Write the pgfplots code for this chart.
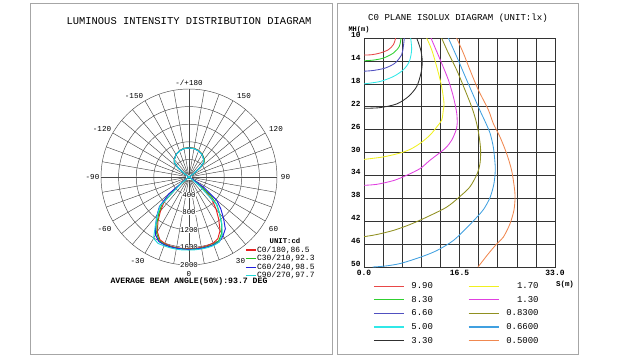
\documentclass[border=0pt]{standalone}
\usepackage{pgfplots}
\pgfplotsset{compat=1.18}
\usepackage{fontspec}
\setmainfont{Liberation Mono}
\newcommand\fs[1]{\fontsize{#1}{#1}\selectfont}
\definecolor{pr}{HTML}{E82020}
\definecolor{pg}{HTML}{20C020}
\definecolor{pb}{HTML}{2020E0}
\definecolor{pc}{HTML}{20D8D8}
\definecolor{ired}{HTML}{E84848}
\definecolor{igreen}{HTML}{30D030}
\definecolor{ipurple}{HTML}{5050C0}
\definecolor{icyan}{HTML}{30E8E8}
\definecolor{iblack}{HTML}{303030}
\definecolor{iyellow}{HTML}{F0F020}
\definecolor{imag}{HTML}{E040E0}
\definecolor{iolive}{HTML}{909020}
\definecolor{iblue}{HTML}{40A0E0}
\definecolor{iorange}{HTML}{F08850}
\begin{document}
\begin{tikzpicture}[x=1bp,y=1bp]
\useasboundingbox (0,0) rectangle (643,363);
\draw[black!35, line width=1bp] (30.5,359.5) rectangle (332,9);
\draw[black!35, line width=1bp] (337,359.5) rectangle (578,9);
% ---------- left panel ----------
\node[font=\fs{10.5}] at (189,342) {LUMINOUS INTENSITY DISTRIBUTION DIAGRAM};
\begin{scope}[shift={(189,186)}, draw=black!72, line width=0.45bp]
\foreach \r in {17.6,35.2,52.8,70.4,88} \draw (0,0) circle[radius=\r];
\foreach \a in {0,10,...,350} \draw (0,0) -- ({88*sin(\a)},{88*cos(\a)});
\end{scope}
\begin{scope}[font=\fs{7.6}]
\node at (189,280) {-/+180};
\node at (134,267) {-150}; \node at (244,267) {150};
\node at (102,234) {-120}; \node at (276,234) {120};
\node at (92.5,186) {-90}; \node at (285.5,186) {90};
\node at (104.5,134) {-60}; \node at (273.5,134) {60};
\node at (137.5,101.5) {-30}; \node at (240.5,101.5) {30};
\node at (189,89) {0};
\end{scope}
\begin{scope}[font=\fs{7.4}, every node/.style={fill=white, inner sep=0.4bp}]
\node at (189,186) {0};
\node at (189,168.4) {400};
\node at (189,150.8) {800};
\node at (189,133.2) {1200};
\node at (189,115.6) {1600};
\node at (189,98) {2000};
\end{scope}
\begin{axis}[at={(189bp,186bp)}, anchor=center, x=0.044bp, y=0.044bp,
  xmin=-2300, xmax=2300, ymin=-2300, ymax=2300, hide axis, clip=false,
  legend cell align=left,
  legend image code/.code={\draw[#1, line width=1.3bp] (0bp,0bp) -- (10bp,0bp);},
  legend style={at={(0.777,0.1616)}, anchor=north west, draw=none, fill=none,
    font=\fs{8}, inner sep=0pt, row sep=0pt,
    nodes={inner sep=0.6bp, text height=5.8bp, text depth=1.6bp}}]
\addplot[pr, line width=0.95bp] table[row sep=\\, x expr={\thisrow{r}*sin(\thisrow{a})}, y expr={-\thisrow{r}*cos(\thisrow{a})}] {
a r\\
-180 670\\ -170 662\\ -160 635\\ -150 592\\ -140 522\\ -135 472\\ -130 330\\ -125 100\\ -120 0\\
-60 0\\ -55 40\\ -50 320\\ -45 800\\ -40 1010\\ -35 1230\\ -30 1440\\ -25 1570\\ -20 1610\\ -15 1625\\ -10 1630\\ -5 1630\\
0 1630\\ 5 1630\\ 10 1625\\ 15 1615\\ 20 1600\\ 25 1550\\ 30 1410\\ 35 1180\\ 40 960\\ 45 750\\ 50 500\\ 55 200\\ 60 20\\ 65 0\\
120 0\\ 125 110\\ 130 345\\ 135 485\\ 140 535\\ 150 600\\ 160 640\\ 170 665\\ 180 670\\
};
\addlegendentry{C0/180,86.5}
\addplot[pg, line width=0.95bp] table[row sep=\\, x expr={\thisrow{r}*sin(\thisrow{a})}, y expr={-\thisrow{r}*cos(\thisrow{a})}] {
a r\\
-180 665\\ -170 660\\ -160 632\\ -150 590\\ -140 520\\ -135 470\\ -130 330\\ -125 100\\ -120 0\\
-60 0\\ -55 50\\ -50 380\\ -45 870\\ -40 1060\\ -35 1270\\ -30 1470\\ -25 1600\\ -20 1630\\ -15 1640\\ -10 1640\\ -5 1640\\
0 1640\\ 5 1640\\ 10 1640\\ 15 1635\\ 20 1630\\ 25 1600\\ 30 1480\\ 35 1290\\ 40 1080\\ 45 900\\ 50 620\\ 55 150\\ 60 0\\
120 0\\ 125 110\\ 130 345\\ 135 485\\ 140 535\\ 150 598\\ 160 638\\ 170 662\\ 180 665\\
};
\addlegendentry{C30/210,92.3}
\addplot[pb, line width=0.95bp] table[row sep=\\, x expr={\thisrow{r}*sin(\thisrow{a})}, y expr={-\thisrow{r}*cos(\thisrow{a})}] {
a r\\
-180 660\\ -170 655\\ -160 630\\ -150 590\\ -140 520\\ -135 470\\ -130 330\\ -125 100\\ -120 0\\
-60 0\\ -55 80\\ -50 600\\ -45 950\\ -40 1130\\ -35 1320\\ -30 1520\\ -25 1620\\ -20 1640\\ -15 1645\\ -10 1645\\ -5 1645\\
0 1645\\ 5 1645\\ 10 1645\\ 15 1645\\ 20 1640\\ 25 1625\\ 30 1545\\ 35 1440\\ 40 1220\\ 45 1020\\ 50 820\\ 55 420\\ 60 60\\ 65 0\\
120 0\\ 125 100\\ 130 330\\ 135 470\\ 140 520\\ 150 590\\ 160 630\\ 170 655\\ 180 660\\
};
\addlegendentry{C60/240,98.5}
\addplot[pc, line width=0.95bp] table[row sep=\\, x expr={\thisrow{r}*sin(\thisrow{a})}, y expr={-\thisrow{r}*cos(\thisrow{a})}] {
a r\\
-180 660\\ -170 655\\ -160 630\\ -150 588\\ -140 518\\ -135 468\\ -130 330\\ -125 100\\ -120 0\\
-60 0\\ -55 30\\ -50 260\\ -45 930\\ -40 1120\\ -35 1330\\ -30 1610\\ -25 1665\\ -20 1665\\ -15 1665\\ -10 1665\\ -5 1665\\
0 1660\\ 5 1660\\ 10 1660\\ 15 1660\\ 20 1655\\ 25 1630\\ 30 1510\\ 35 1300\\ 40 1080\\ 45 880\\ 50 300\\ 55 30\\ 60 0\\
120 0\\ 125 100\\ 130 330\\ 135 468\\ 140 518\\ 150 588\\ 160 630\\ 170 655\\ 180 660\\
};
\addlegendentry{C90/270,97.7}
\end{axis}
\node[font=\fs{7.3}\bfseries] at (285,122) {UNIT:cd};
\node[font=\fs{8.2}\bfseries] at (189,82) {AVERAGE BEAM ANGLE(50\%):93.7 DEG};
% ---------- right panel ----------
\node[font=\fs{9.1}] at (458,345) {C0 PLANE ISOLUX DIAGRAM (UNIT:lx)};
\node[font=\fs{7}\bfseries] at (359,333.5) {MH(m)};
\node[font=\fs{7.5}\bfseries] at (565,78) {S(m)};
\begin{axis}[at={(364bp,96bp)}, anchor=south west, scale only axis,
  width=191bp, height=229bp,
  xmin=0, xmax=33, ymin=10, ymax=50, y dir=reverse,
  xtick={0,3.3,6.6,9.9,13.2,16.5,19.8,23.1,26.4,29.7,33},
  xticklabels={0.0,,,,,16.5,,,,,33.0},
  ytick={10,14,18,22,26,30,34,38,42,46,50},
  yticklabels={10,14,18,22,26,30,34,38,42,46,50},
  grid=major, major grid style={black!80, line width=0.6bp},
  axis line style={black!80, line width=0.6bp},
  major tick length=0pt,
  xticklabel style={font=\fs{8}\bfseries},
  yticklabel style={font=\fs{7.8}\bfseries, yshift=3bp},
  legend columns=2, legend cell align=right,
  legend image code/.code={\draw[#1, line width=1.3bp] (0bp,0bp) -- (30bp,0bp);},
  legend style={at={(0.047,-0.061)}, anchor=north west, draw=none, fill=none,
    font=\fs{9}, inner sep=0pt, row sep=3.65bp,
    nodes={inner sep=1bp, text height=6.3bp, text depth=1.7bp},
    /tikz/every odd column/.append style={column sep=6bp},
    /tikz/every even column/.append style={column sep=34bp}}]
\addplot[ired, line width=0.85bp, smooth] coordinates {(5.47,10) (5.07,11.17) (4.2,12.05) (2.76,12.63) (1.32,12.92) (0,12.98)};
\addlegendentry{9.90}
\addplot[iyellow, line width=0.85bp, smooth] coordinates {(10.82,10) (11.69,12.05) (12.55,14.97) (13.41,18.48) (13.82,21.4) (13.7,22.6) (13.42,24.33) (12.6,25.5) (11.4,26.96) (9.7,28.4) (7.94,29.47) (6.2,30.1) (3.33,30.77) (0,31.2)};
\addlegendentry{1.70}
\addplot[igreen, line width=0.85bp, smooth] coordinates {(6.39,10) (6.1,11.46) (5.07,12.63) (3.34,13.51) (1.61,13.86) (0,13.98)};
\addlegendentry{8.30}
\addplot[imag, line width=0.85bp, smooth] coordinates {(11.57,10) (12.55,12.34) (13.41,14.39) (14.57,17.31) (15.43,20.23) (16.0,23.0) (16.1,24.9) (15.9,26.1) (15.15,27.84) (14.0,29.3) (11.4,31.35) (9.7,32.8) (7.37,33.98) (5.1,34.9) (2.19,35.56) (0,35.73)};
\addlegendentry{1.30}
\addplot[ipurple, line width=0.85bp, smooth] coordinates {(6.97,10) (6.8,11.46) (6.5,12.92) (5.35,14.39) (3.63,15.26) (1.61,15.67) (0,15.8)};
\addlegendentry{6.60}
\addplot[iolive, line width=0.85bp, smooth] coordinates {(13.41,10) (14.57,12.63) (16.0,15.56) (17.44,19.06) (18.7,22.3) (19.46,24.91) (19.9,27.26) (20.15,29.6) (20.04,31.93) (19.57,33.68) (18.3,36.0) (16.58,37.67) (14.28,39.54) (10.8,41.3) (7.94,42.58) (5.1,43.6) (2.19,44.33) (0,44.7)};
\addlegendentry{0.8300}
\addplot[icyan, line width=0.85bp, smooth] coordinates {(8.06,10) (8.23,12.05) (7.83,14.09) (6.79,15.56) (5.07,16.73) (2.76,17.6) (0,18.01)};
\addlegendentry{5.00}
\addplot[iblue, line width=0.85bp, smooth] coordinates {(14.57,10) (16.0,13.22) (17.73,17.31) (20.0,22.58) (21.07,24.91) (21.8,26.7) (22.33,29.0) (22.6,31.4) (22.68,33.1) (22.45,35.44) (21.8,37.8) (20.73,39.82) (19.5,41.3) (17.73,43.16) (15.4,45.4) (12.55,47.14) (9.7,48.3) (6.22,49.4) (3.5,49.85) (1.5,50)};
\addlegendentry{0.6600}
\addplot[iblack, line width=0.85bp, smooth] coordinates {(9.1,10) (9.79,12.05) (10.07,14.09) (9.84,16.14) (9.1,18.48) (7.66,20.23) (5.64,21.52) (2.76,22.16) (0,22.28)};
\addlegendentry{3.30}
\addplot[iorange, line width=0.85bp, smooth] coordinates {(16.0,10) (17.16,12.63) (18.3,15.56) (19.75,19.06) (21.5,22.58) (22.33,24.91) (23.5,27.3) (24.64,30.18) (25.5,33.1) (25.96,36.0) (26.1,37.8) (25.9,40.1) (25.2,42.5) (24.06,44.8) (22.9,46.0) (21.47,47.7) (19.7,50)};
\addlegendentry{0.5000}
\end{axis}
\end{tikzpicture}
\end{document}
